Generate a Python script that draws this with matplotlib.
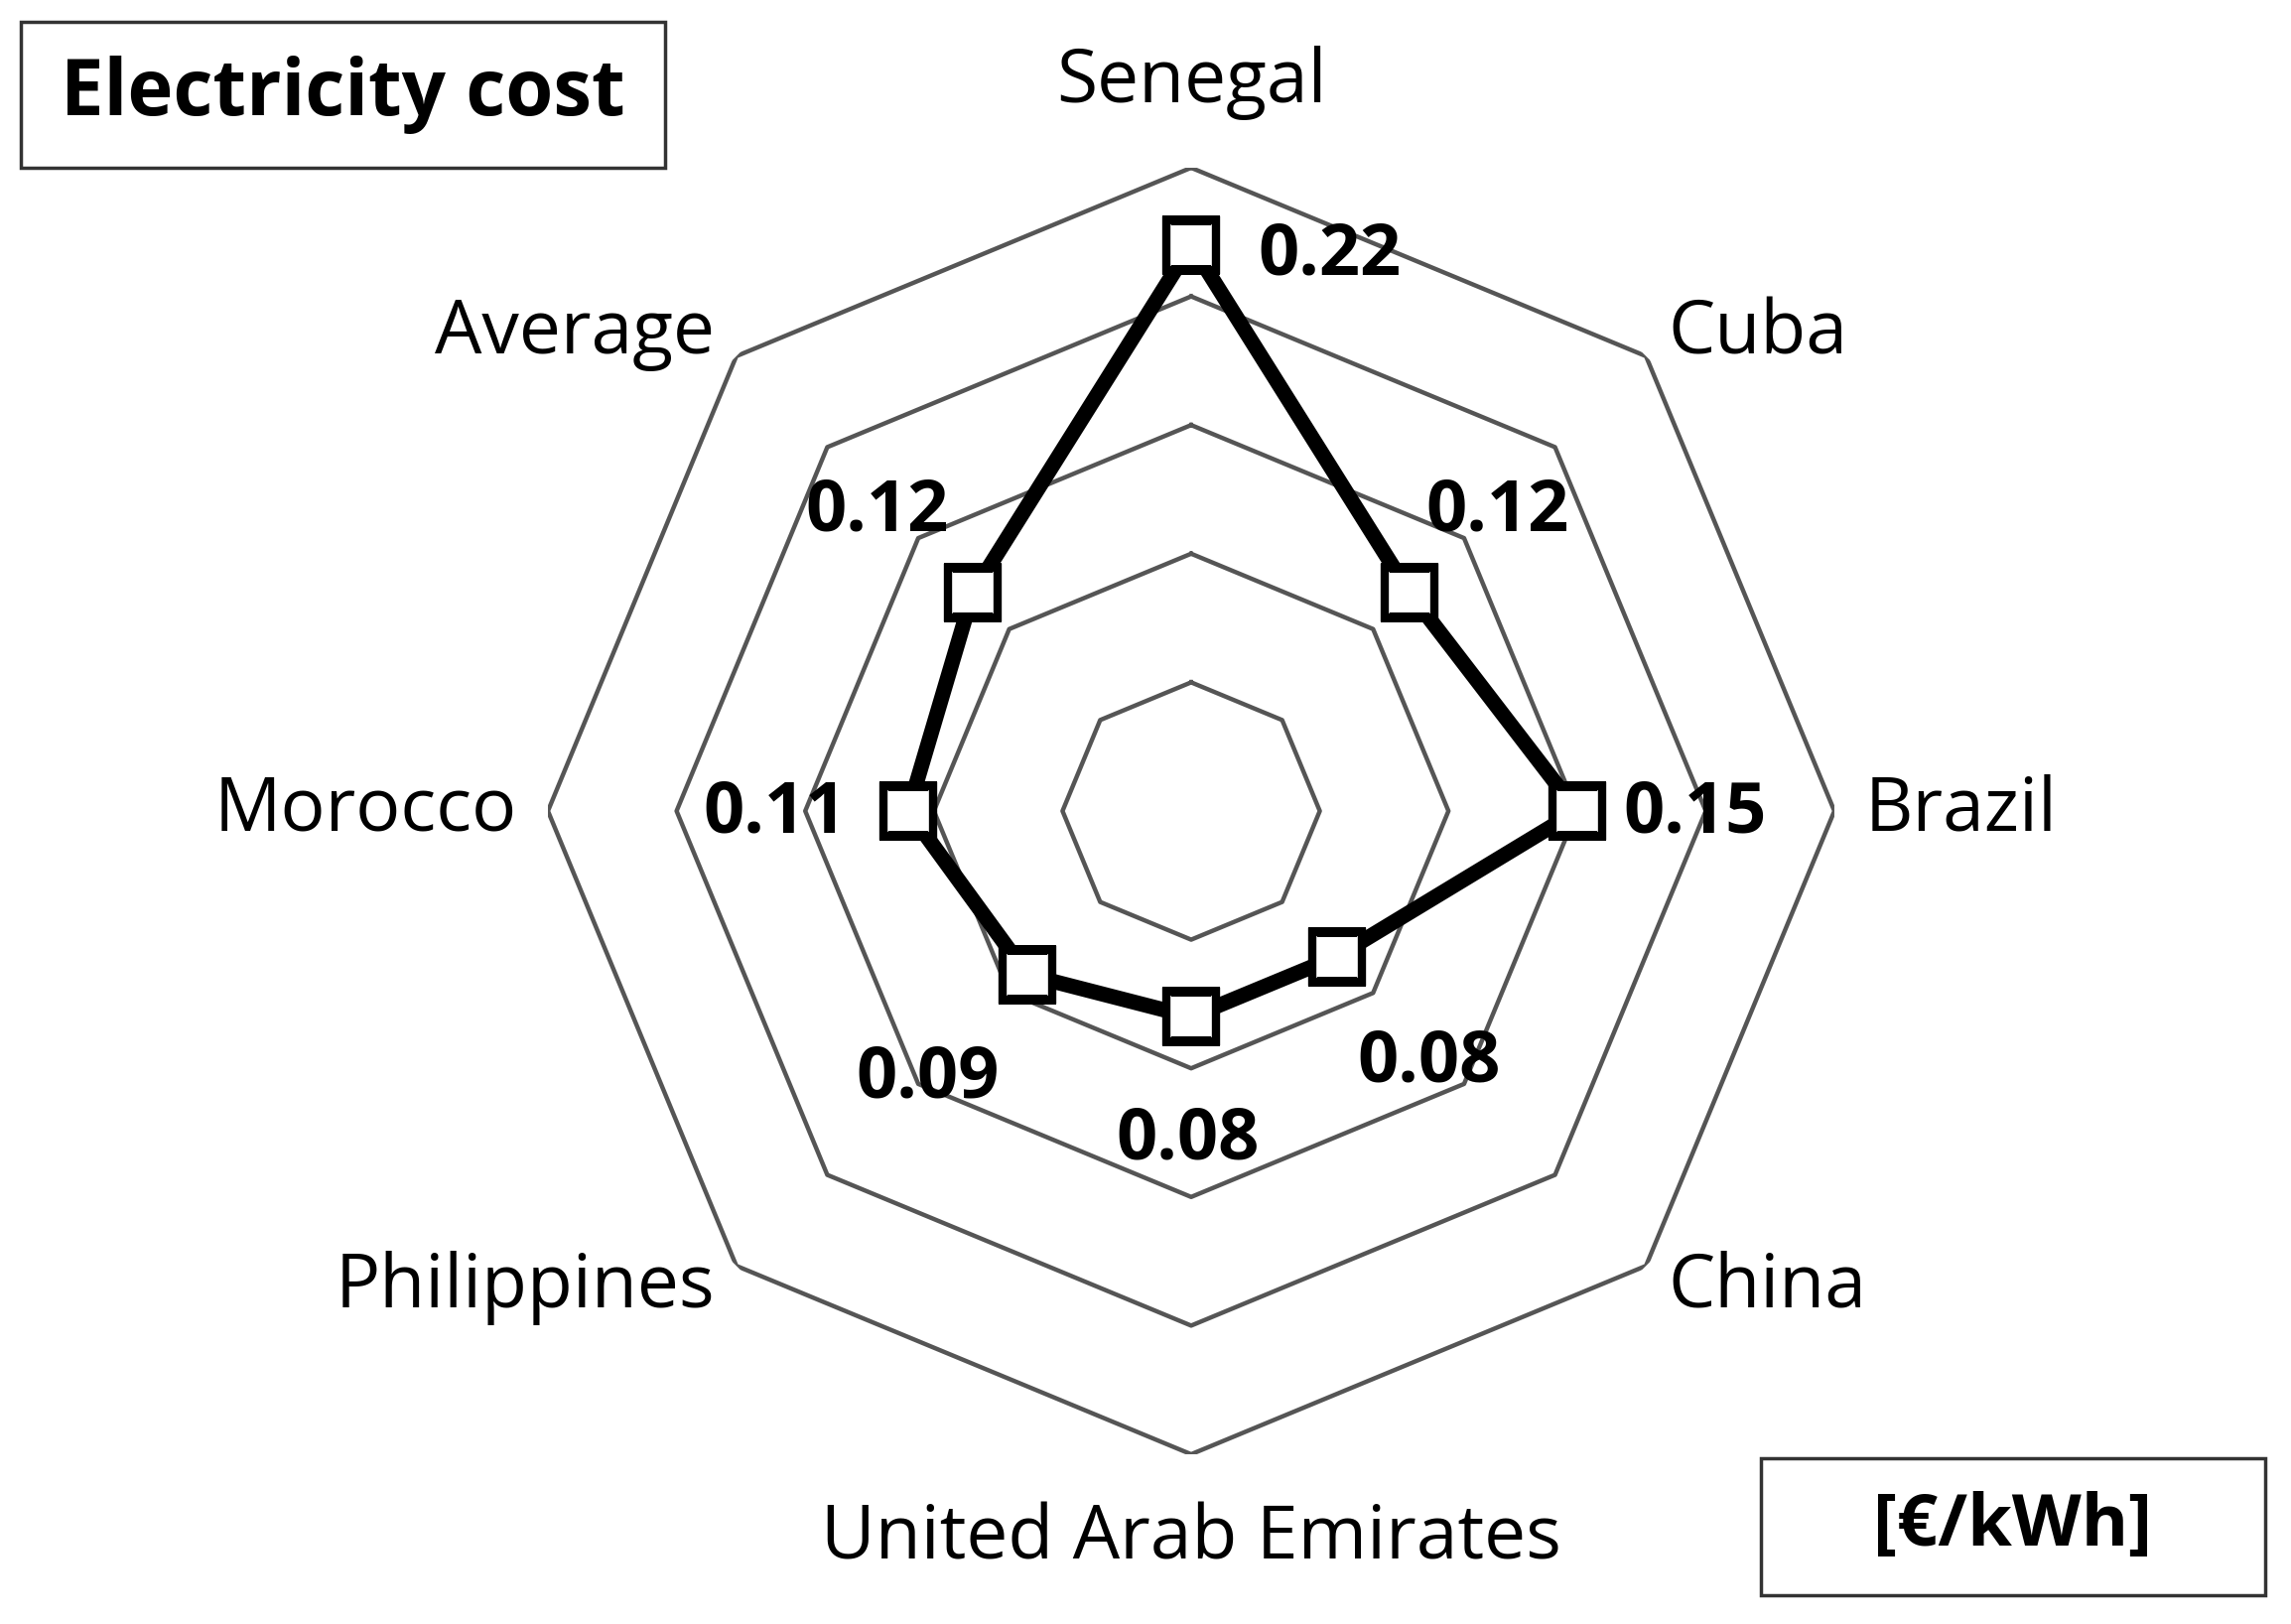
import numpy as np
import matplotlib
matplotlib.use("Agg")
import matplotlib.pyplot as plt
from matplotlib.patches import Rectangle

categories = ["Senegal", "Cuba", "Brazil", "China", "United Arab Emirates",
              "Philippines", "Morocco", "Average"]
values = [0.22, 0.12, 0.15, 0.08, 0.08, 0.09, 0.11, 0.12]
value_labels = ["0.22", "0.12", "0.15", "0.08", "0.08", "0.09", "0.11", "0.12"]
rings = [0.05, 0.10, 0.15, 0.20, 0.25]
title = "Electricity cost"
unit = "[€/kWh]"

W, H = 2308, 1636
fig = plt.figure(figsize=(W/100, H/100), dpi=100)
plt.rcParams['font.family'] = ['Open Sans', 'DejaVu Sans']
cx, cy, R = 1200, 817, 648
ax = fig.add_axes([(cx-R)/W, (H-cy-R)/H, 2*R/W, 2*R/H], projection='polar')
ax.set_theta_zero_location('N')
ax.set_theta_direction(-1)
ax.set_ylim(0, 0.25)
ax.axis('off')

n = len(categories)
th = np.arange(n) * 2*np.pi/n
thc = np.append(th, th[0])
for r in rings:
    ax.plot(thc, [r]*(n+1), color='#555555', lw=3.2, zorder=1)

vc = np.append(values, values[0])
ax.plot(thc, vc, color='black', lw=11, zorder=3, solid_joinstyle='miter')
ax.plot(th, values, ls='none', marker='s', ms=36, mfc='white', mec='black', mew=6, zorder=4)

for t, c in zip(th, categories):
    s = np.sin(t)
    if abs(s) < 0.01:
        ax.text(t, 0.283, c, ha='center', va='center', fontsize=54, clip_on=False)
    else:
        ax.text(t, 0.262, c, ha='left' if s > 0 else 'right', va='center', fontsize=54, clip_on=False)

sc = 2308/1568
lab_pos = [(910, 175), (1025, 350), (1160, 557), (978, 727), (813, 780),
           (635, 738), (530, 557), (600, 350)]
for (x, y), lab in zip(lab_pos, value_labels):
    fig.text(x*sc/W, 1 - y*sc/H, lab, ha='center', va='center', fontsize=52, fontweight='bold')

def box(x0, y0, x1, y1, text, fs):
    x0, y0, x1, y1 = [v*sc for v in (x0, y0, x1, y1)]
    fig.patches.append(Rectangle((x0/W, 1-y1/H), (x1-x0)/W, (y1-y0)/H,
                                 transform=fig.transFigure, fill=False, ec='#333333', lw=2.5))
    fig.text((x0+x1)/2/W, 1-(y0+y1)/2/H, text, ha='center', va='center',
             fontsize=fs, fontweight='bold')

box(14, 15, 455, 115, title, 56)
box(1205, 998, 1550, 1092, unit, 52)

fig.savefig("out.png", dpi=100, facecolor='white')
